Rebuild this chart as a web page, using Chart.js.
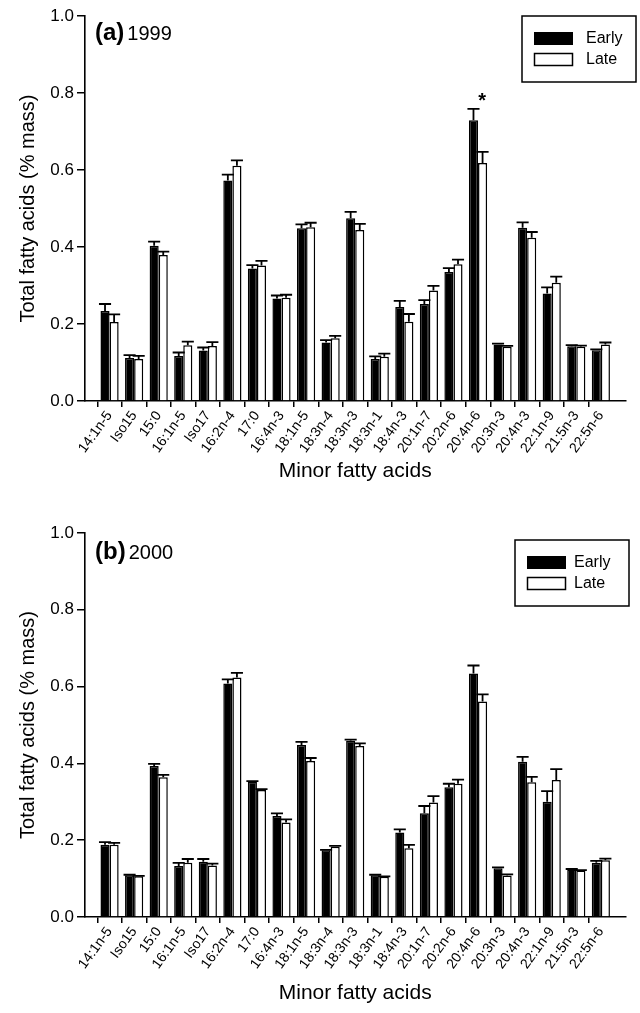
<!DOCTYPE html>
<html>
<head>
<meta charset="utf-8">
<script src="https://cdn.jsdelivr.net/npm/chart.js@4.4.1/dist/chart.umd.min.js"></script>
<style>
  body { margin: 0; background: #fff; }
  canvas { display: block; }
</style>
</head>
<body>
<canvas id="chartA" width="640" height="517"></canvas>
<canvas id="chartB" width="640" height="496"></canvas>
<script>
// fatty acid categories
const categories = ['14:1n-5', 'Iso15', '15:0', '16:1n-5', 'Iso17', '16:2n-4', '17:0', '16:4n-3',
  '18:1n-5', '18:3n-4', '18:3n-3', '18:3n-1', '18:4n-3', '20:1n-7', '20:2n-6', '20:4n-6',
  '20:3n-3', '20:4n-3', '22:1n-9', '21:5n-3', '22:5n-6'];

// (a) 1999
const early1999 = [0.234, 0.112, 0.403, 0.117, 0.131, 0.573, 0.344, 0.266, 0.449, 0.152, 0.475,
  0.109, 0.244, 0.252, 0.335, 0.729, 0.147, 0.450, 0.279, 0.142, 0.132];
const early1999Err = [0.018, 0.007, 0.011, 0.009, 0.008, 0.015, 0.009, 0.008, 0.010, 0.006, 0.016,
  0.007, 0.016, 0.010, 0.010, 0.030, 0.002, 0.014, 0.016, 0.003, 0.002];
const late1999 = [0.205, 0.109, 0.379, 0.145, 0.143, 0.611, 0.352, 0.268, 0.451, 0.163, 0.444,
  0.115, 0.206, 0.287, 0.355, 0.618, 0.141, 0.424, 0.307, 0.141, 0.147];
const late1999Err = [0.020, 0.008, 0.009, 0.009, 0.010, 0.014, 0.012, 0.008, 0.012, 0.006, 0.016,
  0.008, 0.020, 0.012, 0.012, 0.029, 0.002, 0.015, 0.016, 0.003, 0.005];

// (b) 2000
const early2000 = [0.188, 0.109, 0.393, 0.133, 0.144, 0.608, 0.352, 0.263, 0.448, 0.174, 0.459,
  0.109, 0.220, 0.270, 0.338, 0.634, 0.127, 0.404, 0.300, 0.124, 0.141];
const early2000Err = [0.007, 0.001, 0.006, 0.008, 0.007, 0.011, 0.002, 0.007, 0.008, 0.001, 0.003,
  0.001, 0.008, 0.019, 0.009, 0.021, 0.002, 0.013, 0.028, 0.001, 0.005];
const late2000 = [0.188, 0.106, 0.364, 0.141, 0.134, 0.624, 0.331, 0.246, 0.406, 0.183, 0.445,
  0.105, 0.179, 0.298, 0.347, 0.561, 0.108, 0.351, 0.357, 0.121, 0.148];
const late2000Err = [0.005, 0.001, 0.006, 0.010, 0.005, 0.012, 0.002, 0.008, 0.008, 0.002, 0.007,
  0.001, 0.009, 0.017, 0.011, 0.019, 0.003, 0.014, 0.028, 0.001, 0.004];

const FONT = "'Liberation Sans', Arial, sans-serif";

// pad with an empty slot each side so the axis runs past the first/last bar pair
function padded(arr) { return [null, ...arr, null]; }

const extrasPlugin = {
  id: 'extras',
  afterDatasetsDraw(chart) {
    const ctx = chart.ctx;
    const yScale = chart.scales.y;
    const xScale = chart.scales.x;
    const ex = chart.options.plugins.extras;

    // error bars (upper only)
    ctx.save();
    ctx.strokeStyle = '#000';
    ctx.lineWidth = 1.8;
    chart.data.datasets.forEach((ds, i) => {
      const meta = chart.getDatasetMeta(i);
      meta.data.forEach((bar, j) => {
        const v = ds.data[j];
        const err = ds.errors[j];
        if (v == null) return;
        const top = yScale.getPixelForValue(v + err);
        const half = bar.width / 2 + 1.5;
        ctx.beginPath();
        ctx.moveTo(bar.x, bar.y);
        ctx.lineTo(bar.x, top);
        ctx.moveTo(bar.x - half, top);
        ctx.lineTo(bar.x + half, top);
        ctx.stroke();
      });
    });
    ctx.restore();

    // panel label
    ctx.save();
    ctx.fillStyle = '#000';
    ctx.textBaseline = 'alphabetic';
    ctx.textAlign = 'left';
    ctx.font = 'bold 24px ' + FONT;
    ctx.fillText(ex.panel, 95, ex.panelY);
    const w = ctx.measureText(ex.panel).width;
    ctx.font = '20px ' + FONT;
    ctx.fillText(ex.year, 95 + w + 3, ex.panelY);

    // legend box
    const L = ex.legend;
    ctx.lineWidth = 1.5;
    ctx.strokeStyle = '#000';
    ctx.strokeRect(L.x, L.y, L.w, L.h);
    ctx.fillRect(L.sx, L.y + 16, 39, 13);
    ctx.strokeRect(L.sx + 0.5, L.y + 37.5, 38, 12);
    ctx.font = '16px ' + FONT;
    ctx.textBaseline = 'middle';
    ctx.fillText('Early', L.tx, L.y + 23);
    ctx.fillText('Late', L.tx, L.y + 44);

    // significance marker
    if (ex.star) {
      const idx = categories.indexOf(ex.star.cat) + 1;
      const sx = xScale.getPixelForValue(idx) + 4;
      const sy = yScale.getPixelForValue(ex.star.at) - 9;
      ctx.font = 'bold 20px ' + FONT;
      ctx.textAlign = 'center';
      ctx.textBaseline = 'alphabetic';
      ctx.fillText('*', sx, sy + 8);
    }
    ctx.restore();
  }
};

function makeChart(id, early, earlyErr, late, lateErr, extras) {
  const canvas = document.getElementById(id);
  const H = canvas.height;
  return new Chart(canvas, {
    type: 'bar',
    data: {
      labels: ['', ...categories, ''],
      datasets: [
        {
          label: 'Early',
          data: padded(early),
          errors: padded(earlyErr),
          backgroundColor: '#000',
          borderColor: '#000',
          borderWidth: 1.5,
          borderSkipped: 'bottom'
        },
        {
          label: 'Late',
          data: padded(late),
          errors: padded(lateErr),
          backgroundColor: '#fff',
          borderColor: '#000',
          borderWidth: 1.5,
          borderSkipped: 'bottom'
        }
      ]
    },
    options: {
      responsive: false,
      animation: false,
      layout: { padding: { top: 16, right: 7, left: 0, bottom: 0 } },
      categoryPercentage: 0.74,
      barPercentage: 1.0,
      plugins: {
        legend: { display: false },
        tooltip: { enabled: false },
        extras: extras
      },
      scales: {
        x: {
          offset: false,
          afterFit: s => { s.height = H - extras.axisBottom; },
          border: { color: '#000', width: 1.6 },
          grid: {
            drawOnChartArea: false,
            drawTicks: true,
            tickLength: 6,
            lineWidth: 1.5,
            color: c => (c.index === 0 || c.index === categories.length + 1) ? 'rgba(0,0,0,0)' : '#000'
          },
          ticks: {
            autoSkip: false,
            minRotation: 54,
            maxRotation: 54,
            padding: 1,
            color: '#000',
            font: { family: FONT, size: 14 }
          },
          title: {
            display: true,
            text: 'Minor fatty acids',
            color: '#000',
            font: { family: FONT, size: 21 },
            padding: { top: 0, bottom: extras.xTitlePad }
          }
        },
        y: {
          min: 0,
          max: 1.0,
          afterFit: s => { s.width = 85; },
          border: { color: '#000', width: 1.6 },
          grid: {
            drawOnChartArea: false,
            drawTicks: true,
            tickLength: 8,
            lineWidth: 1.5,
            color: '#000'
          },
          ticks: {
            stepSize: 0.2,
            padding: 3,
            color: '#000',
            font: { family: FONT, size: 17 },
            callback: v => v.toFixed(1)
          },
          title: {
            display: true,
            text: 'Total fatty acids (% mass)',
            color: '#000',
            font: { family: FONT, size: 20 },
            padding: { top: 16, bottom: 0 }
          }
        }
      }
    },
    plugins: [extrasPlugin]
  });
}

makeChart('chartA', early1999, early1999Err, late1999, late1999Err, {
  axisBottom: 401,
  xTitlePad: 33,
  panel: '(a)',
  year: '1999',
  panelY: 40,
  legend: { x: 522, y: 16, w: 114, h: 66, sx: 534, tx: 586 },
  star: { cat: '20:4n-6', at: 0.76 }
});

makeChart('chartB', early2000, early2000Err, late2000, late2000Err, {
  axisBottom: 400,
  xTitlePad: 7,
  panel: '(b)',
  year: '2000',
  panelY: 42,
  legend: { x: 515, y: 23, w: 114, h: 66, sx: 527, tx: 574 },
  star: null
});
</script>
</body>
</html>
